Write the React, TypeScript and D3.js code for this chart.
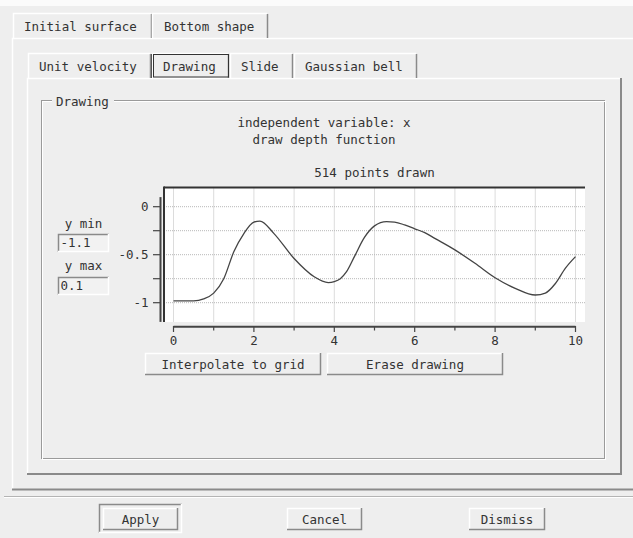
import React from "react";
import * as d3 from "d3";

// ---- data ----
const curveX = [0, 0.5, 0.75, 1, 1.25, 1.5, 1.75, 2, 2.15, 2.5, 3, 3.5, 3.85, 4, 4.15, 4.3, 4.5, 4.75, 5, 5.3, 5.5, 5.75, 6, 6.25, 6.5, 7, 7.5, 8, 8.5, 9, 9.25, 9.5, 9.75, 10];
const curveY = [-0.98, -0.98, -0.96, -0.9, -0.75, -0.47, -0.28, -0.16, -0.15, -0.28, -0.54, -0.73, -0.79, -0.78, -0.75, -0.68, -0.52, -0.32, -0.2, -0.155, -0.16, -0.19, -0.23, -0.27, -0.33, -0.45, -0.59, -0.74, -0.85, -0.92, -0.9, -0.8, -0.64, -0.52];
const xTicks = [0, 1, 2, 3, 4, 5, 6, 7, 8, 9, 10];
const xLabelTicks = [0, 2, 4, 6, 8, 10];
const yTicks = [0, -0.25, -0.5, -0.75, -1];
const yLabelTicks = [0, -0.5, -1];
const yLabels = ["0", "-0.5", "-1"];
const outerTabs = ["Initial surface", "Bottom shape"];
const innerTabs = ["Unit velocity", "Drawing", "Slide", "Gaussian bell"];
const titleLines = ["independent variable: x", "draw depth function"];
const pointsLabel = "514 points drawn";
const yMinValue = "-1.1";
const yMaxValue = "0.1";

const FONT = "'DejaVu Sans Mono', 'Liberation Mono', monospace";
const FS = 12.5;
const BG = "#eeeeee";
const DARK = "#8a8a8a";
const TXT = "#333333";

function Raised({ x, y, w, h }: any) {
  return (
    <g>
      <rect x={x} y={y} width={w} height={h} fill={BG} />
      <path d={`M${x + 0.5},${y + h} V${y + 0.5} H${x + w}`} stroke="#ffffff" fill="none" strokeWidth={1.5} />
      <path d={`M${x + w - 0.5},${y} V${y + h - 0.5} H${x}`} stroke={DARK} fill="none" strokeWidth={1.5} />
    </g>
  );
}

function Sunken({ x, y, w, h, fill }: any) {
  return (
    <g>
      <rect x={x} y={y} width={w} height={h} fill={fill || BG} />
      <path d={`M${x + 0.5},${y + h} V${y + 0.5} H${x + w}`} stroke={DARK} fill="none" strokeWidth={1.5} />
      <path d={`M${x + w - 0.5},${y} V${y + h - 0.5} H${x}`} stroke="#ffffff" fill="none" strokeWidth={1.5} />
    </g>
  );
}

function T({ x, y, children, anchor = "start" }: any) {
  return (
    <text x={x} y={y} textAnchor={anchor} fontFamily={FONT} fontSize={FS} fill={TXT}>
      {children}
    </text>
  );
}

export default function App() {
  const x = d3.scaleLinear().domain([0, 10]).range([173.5, 575.5]);
  const y = d3.scaleLinear().domain([0, -1]).range([206.7, 302.7]);
  const line = d3
    .line<number>()
    .x((_, i) => x(curveX[i]))
    .y((d) => y(d))
    .curve(d3.curveMonotoneX);

  const plotL = 164, plotR = 585, plotT = 187.5, plotB = 322;
  const outerTabX = [13, 152, 268];
  const innerTabX = [28, 152, 230, 294, 418];

  return (
    <svg width={633} height={538} style={{ position: "absolute", left: 0, top: 0 }}>
      <rect x={0} y={0} width={633} height={538} fill={BG} />
      <rect x={0} y={0} width={633} height={6} fill="#fbfbfb" />

      {/* outer panel */}
      <path d={`M12.5,489 V38.5 H633`} stroke="#ffffff" strokeWidth={1.5} fill="none" />
      <path d={`M12,489.5 H633`} stroke={DARK} strokeWidth={2} fill="none" />

      {/* outer tabs */}
      {outerTabs.map((t, i) => {
        const x0 = outerTabX[i], x1 = outerTabX[i + 1];
        return (
          <g key={t}>
            <path d={`M${x0 + 0.5},38 V13.5 H${x1 - 1}`} stroke="#ffffff" strokeWidth={1.5} fill="none" />
            <path d={`M${x1 - 0.5},14 V38`} stroke={DARK} strokeWidth={1.5} fill="none" />
            <T x={x0 + 11 + (i === 1 ? 1 : 0)} y={31}>{t}</T>
          </g>
        );
      })}

      {/* inner panel */}
      <path d={`M27.5,474 V78.5 H621`} stroke="#ffffff" strokeWidth={1.5} fill="none" />
      <path d={`M27,474 H621 V78`} stroke={DARK} strokeWidth={2} fill="none" />

      {/* inner tabs */}
      {innerTabs.map((t, i) => {
        const x0 = innerTabX[i], x1 = innerTabX[i + 1] - 1;
        const sel = t === "Drawing";
        return (
          <g key={t}>
            <path d={`M${x0 + 0.5},78 V53.5 H${x1 - 1}`} stroke="#ffffff" strokeWidth={1.5} fill="none" />
            <path d={`M${x1 - 0.5},54 V78`} stroke={DARK} strokeWidth={1.5} fill="none" />
            {sel && <rect x={x0 + 1.5} y={54.5} width={x1 - x0 - 2} height={22.5} fill="none" stroke="#333" strokeWidth={1} />}
            {sel && <line x1={x0 - 0.5} x2={x0 - 0.5} y1={54} y2={78} stroke="#555" strokeWidth={1} />}
            <T x={x0 + 11} y={71}>{t}</T>
          </g>
        );
      })}

      {/* group box (etched) */}
      <rect x={41.5} y={100.5} width={563} height={358} fill="none" stroke="#9a9a9a" strokeWidth={1} />
      <rect x={42.5} y={101.5} width={563} height={358} fill="none" stroke="#ffffff" strokeWidth={1} />
      <rect x={52} y={95} width={62} height={12} fill={BG} />
      <T x={56} y={106}>Drawing</T>

      {/* titles */}
      <T x={324} y={127} anchor="middle">{titleLines[0]}</T>
      <T x={324} y={144} anchor="middle">{titleLines[1]}</T>
      <T x={(plotL + plotR) / 2} y={177} anchor="middle">{pointsLabel}</T>

      {/* y min / y max */}
      <T x={83.5} y={228} anchor="middle">y min</T>
      <Sunken x={58} y={234} w={51} h={18} fill="#f2f2f2" />
      <T x={60.5} y={247}>{yMinValue}</T>
      <T x={83.5} y={270} anchor="middle">y max</T>
      <Sunken x={58} y={277} w={51} h={18} fill="#f2f2f2" />
      <T x={60.5} y={290}>{yMaxValue}</T>

      {/* plot area */}
      <rect x={plotL} y={plotT} width={plotR - plotL} height={plotB - plotT} fill="#ffffff" />
      {xTicks.map((v) => (
        <line key={"gx" + v} x1={x(v)} x2={x(v)} y1={plotT} y2={plotB} stroke="#b8b8b8" strokeWidth={1} strokeDasharray="1,1" />
      ))}
      {yTicks.map((v) => (
        <line key={"gy" + v} x1={plotL} x2={plotR} y1={y(v)} y2={y(v)} stroke="#b8b8b8" strokeWidth={1} strokeDasharray="1,1" />
      ))}
      <path d={line(curveY) || ""} fill="none" stroke="#444" strokeWidth={1.3} />
      <line x1={plotL} x2={plotR} y1={plotT} y2={plotT} stroke="#333" strokeWidth={2} />
      <line x1={plotL} x2={plotL} y1={plotT - 1} y2={plotB} stroke="#333" strokeWidth={2} />

      {/* y axis */}
      <line x1={160.5} x2={160.5} y1={y(0.1)} y2={y(-1.2)} stroke="#444" strokeWidth={2} />
      {yTicks.map((v) => (
        <line key={"ty" + v} x1={153} x2={160} y1={y(v)} y2={y(v)} stroke="#444" strokeWidth={1.2} />
      ))}
      {yLabelTicks.map((v, i) => (
        <T key={"ly" + v} x={148.5} y={y(v) + 4} anchor="end">{yLabels[i]}</T>
      ))}

      {/* x axis */}
      <line x1={x(0)} x2={x(10)} y1={326.7} y2={326.7} stroke="#444" strokeWidth={2} />
      {xTicks.map((v) => (
        <line key={"tx" + v} x1={x(v)} x2={x(v)} y1={326} y2={v % 2 === 0 ? 332 : 330.5} stroke="#444" strokeWidth={1.2} />
      ))}
      {xLabelTicks.map((v) => (
        <T key={"lx" + v} x={x(v)} y={345} anchor="middle">{String(v)}</T>
      ))}

      {/* plot buttons */}
      <Raised x={145} y={353} w={176} h={22} />
      <T x={233} y={368.5} anchor="middle">Interpolate to grid</T>
      <Raised x={327} y={353} w={176} h={22} />
      <T x={415} y={368.5} anchor="middle">Erase drawing</T>

      {/* separator */}
      <line x1={4} x2={633} y1={496.5} y2={496.5} stroke="#b4b4b4" strokeWidth={1} />
      <line x1={4} x2={633} y1={497.5} y2={497.5} stroke="#ffffff" strokeWidth={1} />

      {/* bottom buttons */}
      <Sunken x={99} y={504} w={83} h={29} />
      <Raised x={103} y={508} w={75} h={22} />
      <T x={140.5} y={523.5} anchor="middle">Apply</T>
      <Raised x={287} y={508} w={75} h={22} />
      <T x={324.5} y={523.5} anchor="middle">Cancel</T>
      <Raised x={469} y={508} w={76} h={22} />
      <T x={507} y={523.5} anchor="middle">Dismiss</T>
    </svg>
  );
}
